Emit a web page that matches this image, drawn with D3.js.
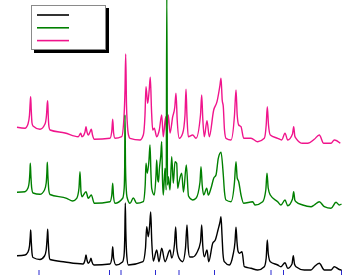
<!doctype html>
<html lang="en">
<head>
<meta charset="utf-8">
<title>XRD patterns</title>
<script src="https://cdn.jsdelivr.net/npm/d3@7"></script>
<style>
  html, body { margin: 0; padding: 0; background: #fff; }
  svg { display: block; }
</style>
</head>
<body>
<svg id="chart"></svg>
<script>
// 2-theta (deg) vs intensity (arb.), three stacked patterns
var blackPts = [
  [5.0,14.3],[5.8,15],[6.1,18],[6.25,24],[6.33,34],[6.37,40],[6.42,30],[6.5,17],[6.6,12.5],[7.3,10.5],
  [7.75,14],[7.92,20],[8.02,33],[8.07,40.7],[8.12,30],[8.2,16],[8.3,10.5],[9.8,8],[11.6,6],[11.8,10],
  [11.9,15],[12.0,10],[12.13,6.7],[12.3,9],[12.4,11.7],[12.5,8],[12.7,5],[14.3,6],[14.48,12],
  [14.57,23.3],[14.66,12],[14.9,5],[15.55,8],[15.7,14],[15.78,35],[15.83,67],[15.88,40],[15.98,14],
  [16.13,5],[17.6,8.3],[17.85,22],[17.97,43.3],[18.13,33.3],[18.27,45],[18.37,58],[18.47,30],
  [18.63,9],[18.97,20],[19.2,8.3],[19.47,21.7],[19.8,8.3],[20.3,20],[20.47,12],[20.75,26],
  [20.87,43],[20.98,22],[21.2,12],[21.57,8.3],[21.85,22],[22.0,45],[22.12,22],[22.27,13],
  [22.57,13],[22.97,17],[23.35,28],[23.47,45],[23.58,24],[23.73,13.3],[24.0,20],[24.17,8.3],
  [24.57,26.7],[24.83,30],[25.1,40],[25.3,48],[25.4,53.3],[25.5,35],[25.6,16],[25.73,8.3],
  [26.23,5],[26.6,15],[26.8,28],[26.9,42.7],[27.0,28],[27.1,19],[27.23,16.7],[27.5,18.3],
  [27.73,3.3],[28.4,1.7],[29.07,0],[29.73,3.3],[29.92,12],[30.03,30],[30.13,16],[30.33,8.3],
  [31.07,5],[31.4,3.3],[31.8,7.3],[32.07,1.7],[32.5,6],[32.63,14.3],[32.75,6],[32.9,3.3],
  [33.73,0],[34.4,0],[34.73,3.3],[35.23,6.7],[35.73,0],[36.4,0],[36.73,3.3],[37.23,0.5],[37.45,0]
];
var greenPts = [
  [5.0,17.7],[5.8,18.3],[6.1,22],[6.24,30],[6.3,40],[6.33,46.7],[6.39,34],[6.47,22],[6.6,17],
  [7.3,15.7],[7.75,20],[7.92,27],[7.99,38],[8.03,47.7],[8.09,34],[8.18,20],[8.3,15.5],[9.97,11.7],
  [10.57,9],[10.97,11.7],[11.2,22],[11.3,38.3],[11.4,18],[11.5,13.3],[11.9,18.3],[12.13,11.7],
  [12.43,15],[12.73,6.7],[14.3,8.3],[14.48,15],[14.57,26.7],[14.66,13],[14.8,6.7],[15.57,11.7],
  [15.72,22],[15.77,45],[15.8,95],[15.85,45],[15.93,20],[16.0,13],[16.3,6.7],[16.63,12],[16.97,6.7],
  [17.63,8.3],[17.82,25],[17.9,46.7],[18.03,36.7],[18.2,50],[18.3,65],[18.4,35],[18.47,21.7],
  [18.73,15],[18.9,35],[18.97,50],[19.08,30],[19.15,28],[19.23,40],[19.38,55],[19.47,68.3],
  [19.55,30],[19.63,15],[19.8,41.7],[19.92,20],[19.98,220],[20.05,25],[20.13,33.3],[20.3,20],
  [20.47,53.3],[20.63,26.7],[20.8,48.3],[20.97,46.7],[21.07,21.7],[21.2,28],[21.47,36.7],
  [21.65,18],[21.93,45],[22.15,14],[22.57,10],[22.9,11.7],[23.3,28],[23.4,43.3],[23.52,25],
  [23.67,15],[23.97,21.7],[24.13,15],[24.4,21.7],[24.67,31.7],[24.9,35],[25.13,51.7],[25.4,57.7],
  [25.63,35],[25.75,18],[25.9,10],[26.4,8.3],[26.75,28],[26.9,48.3],[27.02,32],[27.17,28.3],
  [27.4,15],[27.67,6.7],[28.57,8.3],[28.8,5],[29.57,8.3],[29.88,20],[30.0,36.7],[30.12,22],
  [30.33,15],[31.07,8.3],[31.4,5],[31.8,10],[32.07,4.3],[32.55,11],[32.67,18.3],[32.78,10],
  [32.9,8.3],[33.57,5],[34.4,3.3],[34.73,5],[35.23,8.3],[35.73,3.3],[36.4,1.7],[36.9,7.7],
  [37.23,5],[37.45,6]
];
var pinkPts = [
  [5.0,17.7],[5.8,16.7],[6.1,21],[6.25,30],[6.33,44],[6.37,48.3],[6.42,36],[6.5,22],[6.6,19],
  [7.3,15.7],[7.8,21],[7.95,30],[8.03,42],[8.07,44.3],[8.12,30],[8.2,18],[8.3,15],[9.8,12],
  [11.13,8.3],[11.37,11.7],[11.5,8.3],[11.8,13],[11.9,18.3],[12.0,13],[12.13,10],[12.3,13],
  [12.43,15.7],[12.55,10],[12.73,5.7],[14.3,6.7],[14.48,14],[14.57,25.7],[14.66,12],[14.8,6.7],
  [15.47,8.3],[15.7,28.3],[15.8,55],[15.87,91],[15.95,40],[16.03,21.7],[16.15,10],[16.3,6.7],
  [17.3,5],[17.63,10],[17.8,30],[17.9,58.3],[18.07,41.7],[18.22,55],[18.33,67.7],[18.45,35],
  [18.57,15],[18.73,16.7],[18.97,8.3],[19.23,15],[19.47,30],[19.63,8.3],[19.87,28.3],[19.97,11.7],
  [20.13,30],[20.3,12],[20.57,28.3],[20.78,38],[20.9,51.7],[21.02,25],[21.23,6.7],[21.57,11.7],
  [21.8,30],[21.9,55.7],[22.0,28],[22.13,8.3],[22.57,10],[22.9,6.7],[23.35,30],[23.47,50],
  [23.58,26],[23.73,8.3],[24.0,24.3],[24.23,8.3],[24.67,35],[25.0,43.3],[25.3,60],[25.4,66.7],
  [25.52,45],[25.63,38.3],[25.75,15],[25.9,6.7],[26.4,5],[26.75,30],[26.9,55],[27.02,30],
  [27.17,20],[27.4,18.3],[27.67,6.7],[28.4,6.7],[29.07,3.3],[29.73,6.7],[29.92,20],[30.03,38.3],
  [30.15,20],[30.33,10],[31.07,6.7],[31.47,5],[31.8,11.7],[32.07,5],[32.55,11],[32.67,18.3],
  [32.78,9],[32.9,6.7],[33.57,1.7],[34.07,1.7],[34.73,5.7],[35.23,10],[35.67,1.7],[36.4,1.7],
  [36.73,5],[37.33,1.7]
];
// reference reflections along the bottom
var refPeaks = [7.2, 14.25, 15.4, 18.85, 21.2, 24.75, 30.4, 31.65, 37.45];

var seriesNames = ["a", "b", "c"];
var seriesColors = ["#000000", "#008000", "#f0148c"];
var seriesOffsets = [5, 65, 130];

var W = 342, H = 275;
var svg = d3.select("#chart").attr("width", W).attr("height", H);

var x = d3.scaleLinear().domain([5, 37.5]).range([17, 342]);
var y = d3.scaleLinear().domain([0, 275]).range([275, 0]);

var series = [
  {name: seriesNames[0], pts: blackPts, color: seriesColors[0], off: seriesOffsets[0]},
  {name: seriesNames[1], pts: greenPts, color: seriesColors[1], off: seriesOffsets[1]},
  {name: seriesNames[2], pts: pinkPts, color: seriesColors[2], off: seriesOffsets[2]}
];

// reference ticks
svg.append("g").selectAll("line")
  .data(refPeaks)
  .enter().append("line")
  .attr("x1", function(d){ return x(d); }).attr("x2", function(d){ return x(d); })
  .attr("y1", 270).attr("y2", 275)
  .attr("stroke", "#2b2bd0").attr("stroke-width", 1);

// draw order: pink, green, black
var drawOrder = [series[2], series[1], series[0]];
svg.append("g").selectAll("path")
  .data(drawOrder)
  .enter().append("path")
  .attr("fill", "none")
  .attr("stroke", function(d){ return d.color; })
  .attr("stroke-width", 1.4)
  .attr("stroke-linejoin", "round")
  .attr("d", function(s){
    return d3.line()
      .curve(d3.curveMonotoneX)
      .x(function(p){ return x(p[0]); })
      .y(function(p){ return y(p[1] + s.off); })(s.pts);
  });

// legend
var lg = svg.append("g").attr("transform", "translate(31,5)");
lg.append("rect").attr("x", 3).attr("y", 3).attr("width", 75).attr("height", 45).attr("fill", "#000");
lg.append("rect").attr("x", 0.5).attr("y", 0.5).attr("width", 74).attr("height", 44)
  .attr("fill", "#fff").attr("stroke", "#8a8a8a").attr("stroke-width", 1);
lg.selectAll("line.key")
  .data(series)
  .enter().append("line")
  .attr("class", "key")
  .attr("x1", 6).attr("x2", 38)
  .attr("y1", function(d, i){ return 10 + i * 12.8; })
  .attr("y2", function(d, i){ return 10 + i * 12.8; })
  .attr("stroke", function(d){ return d.color; })
  .attr("stroke-width", 1.6);
</script>
</body>
</html>
